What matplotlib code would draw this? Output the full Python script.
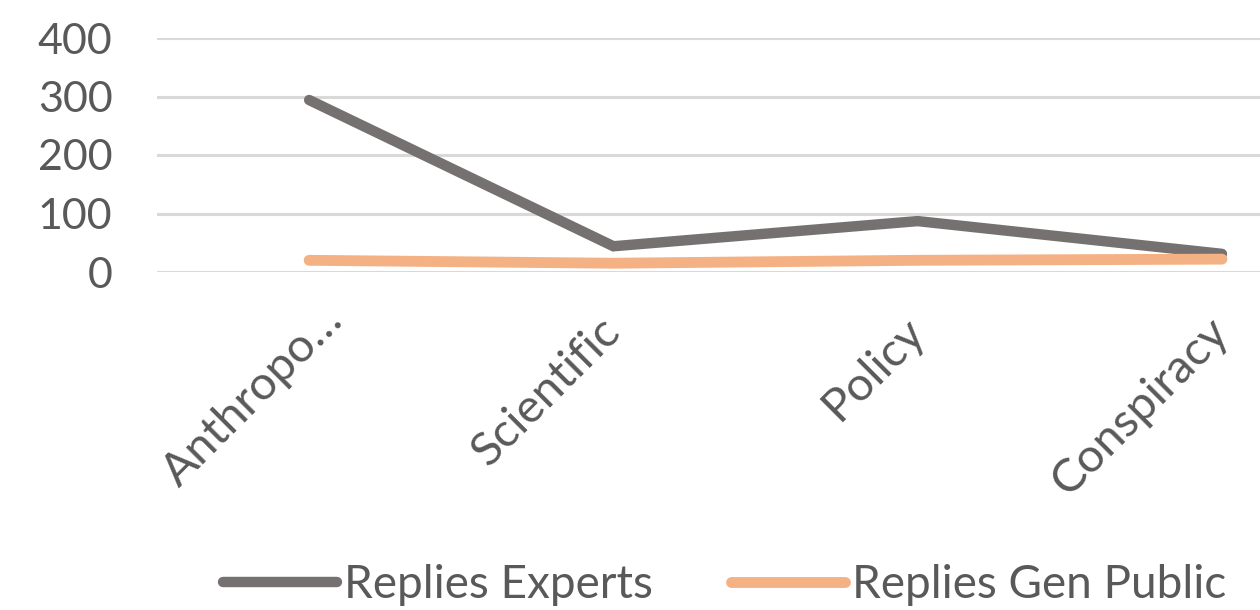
import matplotlib.pyplot as plt
from matplotlib.transforms import ScaledTranslation

plt.rcParams['font.family'] = ['Lato', 'DejaVu Sans']

categories = ["Anthropo…", "Scientific", "Policy", "Conspiracy"]
replies_experts = [294, 44, 87, 31]
replies_public = [20, 15, 20, 22]
yticks = [0, 100, 200, 300, 400]

fig = plt.figure(figsize=(12.6, 6.1), dpi=100)
ax = fig.add_axes([157 / 1260, 1 - 272 / 610, 1 - 157 / 1260, 234 / 610])

x = list(range(len(categories)))
ax.plot(x, replies_experts, color="#767171", lw=7.5, solid_capstyle="round",
        solid_joinstyle="miter", label="Replies Experts", zorder=3)
ax.plot(x, replies_public, color="#F4B183", lw=7.8, solid_capstyle="round",
        solid_joinstyle="miter", label="Replies Gen Public", zorder=3)

ax.set_ylim(0, 400)
ax.set_xlim(-0.5, 3.125)
ax.set_yticks(yticks)
ax.grid(axis="y", color="#D9D9D9", lw=2.2)
ax.set_axisbelow(True)
for s in ax.spines.values():
    s.set_visible(False)
ax.tick_params(axis="both", length=0, colors="#595959")
ax.tick_params(axis="y", pad=32, labelsize=31)
ax.set_xticks(x)
ax.set_xticklabels(categories, rotation=45, ha="right", va="center",
                   rotation_mode="anchor", fontsize=34)
ax.tick_params(axis="x", pad=38)
# the truncated first label sits a bit further right in the original
lbl = ax.get_xticklabels()[0]
lbl.set_transform(lbl.get_transform() + ScaledTranslation(0.27, 0.12, fig.dpi_scale_trans))

fig.legend(loc="center", bbox_to_anchor=(0.575, 1 - 585 / 610), ncol=2, frameon=False,
           fontsize=33, handlelength=2.5, handletextpad=0.15, columnspacing=1.7,
           labelcolor="#595959")

fig.savefig("out.png", dpi=100)
